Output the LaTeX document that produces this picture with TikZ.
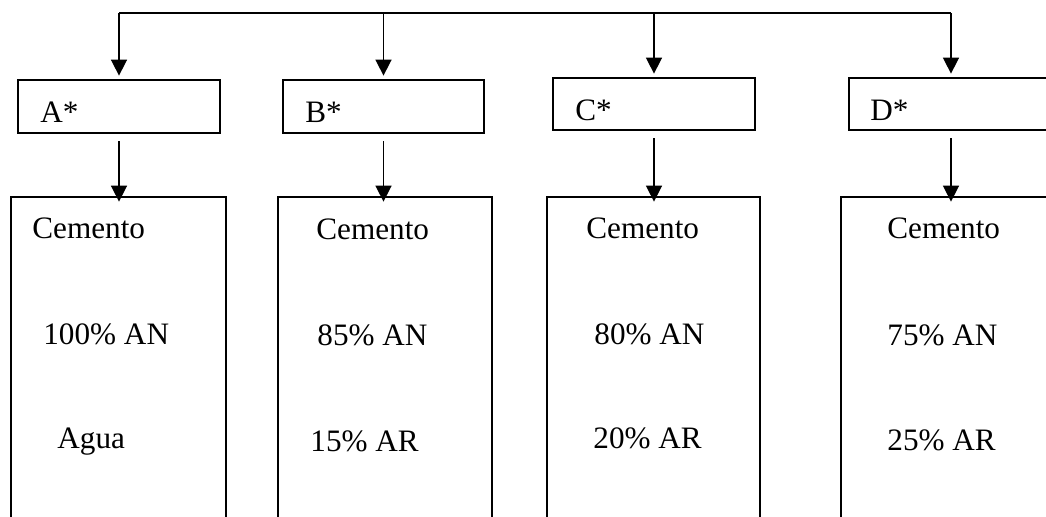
\documentclass[tikz,border=0pt]{standalone}
\usepackage{fontspec}
\setmainfont{Liberation Serif}
\usetikzlibrary{arrows.meta}
\begin{document}
\begin{tikzpicture}[x=0.5pt,y=-0.5pt,
  box/.style={draw, line width=1.4pt, inner sep=0pt},
  link/.style={line width=0.8pt},
  arrow/.style={link, -{Triangle[length=8pt,width=8pt]}},
  lbl/.style={inner sep=0pt, anchor=base west, font=\fontsize{15.6}{19}\selectfont}]
\useasboundingbox (0,0) rectangle (1046,516);
\clip (0,0) rectangle (1046,516);

% mix labels
\node[box, minimum width=101pt,   minimum height=26.5pt] (a) at (119,106.5) {};
\node[box, minimum width=100.5pt, minimum height=26.5pt] (b) at (383.5,106.5) {};
\node[box, minimum width=101pt,   minimum height=26pt]   (c) at (654,104) {};
\node[box, minimum width=102pt,   minimum height=26pt]   (d) at (951,104) {};

% composition boxes (run past the lower edge)
\node[box, minimum width=107.5pt, minimum height=191.5pt] (la) at (118.5,388.5) {};
\node[box, minimum width=107pt,   minimum height=191.5pt] (lb) at (385,388.5) {};
\node[box, minimum width=106.5pt, minimum height=191.5pt] (lc) at (653.5,388.5) {};
\node[box, minimum width=109pt,   minimum height=191.5pt] (ld) at (950,388.5) {};

% distribution line and arrows
\coordinate (top) at (0,13);
\draw[link] (a.north |- top) -- (d.north |- top);
\foreach \n in {a,b,c,d}{
  \draw[arrow] (\n.north |- top) -- ([yshift=1.5pt]\n.north);
  \draw[arrow] ([yshift=-3.5pt]\n.south) -- ([yshift=-3pt]\n.south |- l\n.north);
}

% texts
\node[lbl] (ta) at (40,122)  {A*};
\node[lbl] (tb) at (305,122) {B*};
\node[lbl] (tc) at (575,120) {C*};
\node[lbl] (td) at (870,120) {D*};

\node[lbl] (a1) at (32,238)  {Cemento};
\node[lbl] (a2) at (43,344)  {100\% AN};
\node[lbl] (a3) at (57,448)  {Agua};

\node[lbl] (b1) at (316,239) {Cemento};
\node[lbl] (b2) at (317,345) {85\% AN};
\node[lbl] (b3) at (310,451) {15\% AR};

\node[lbl] (c1) at (586,238) {Cemento};
\node[lbl] (c2) at (594,344) {80\% AN};
\node[lbl] (c3) at (593,448) {20\% AR};

\node[lbl] (d1) at (887,238) {Cemento};
\node[lbl] (d2) at (887,345) {75\% AN};
\node[lbl] (d3) at (887,450) {25\% AR};
\end{tikzpicture}
\end{document}
